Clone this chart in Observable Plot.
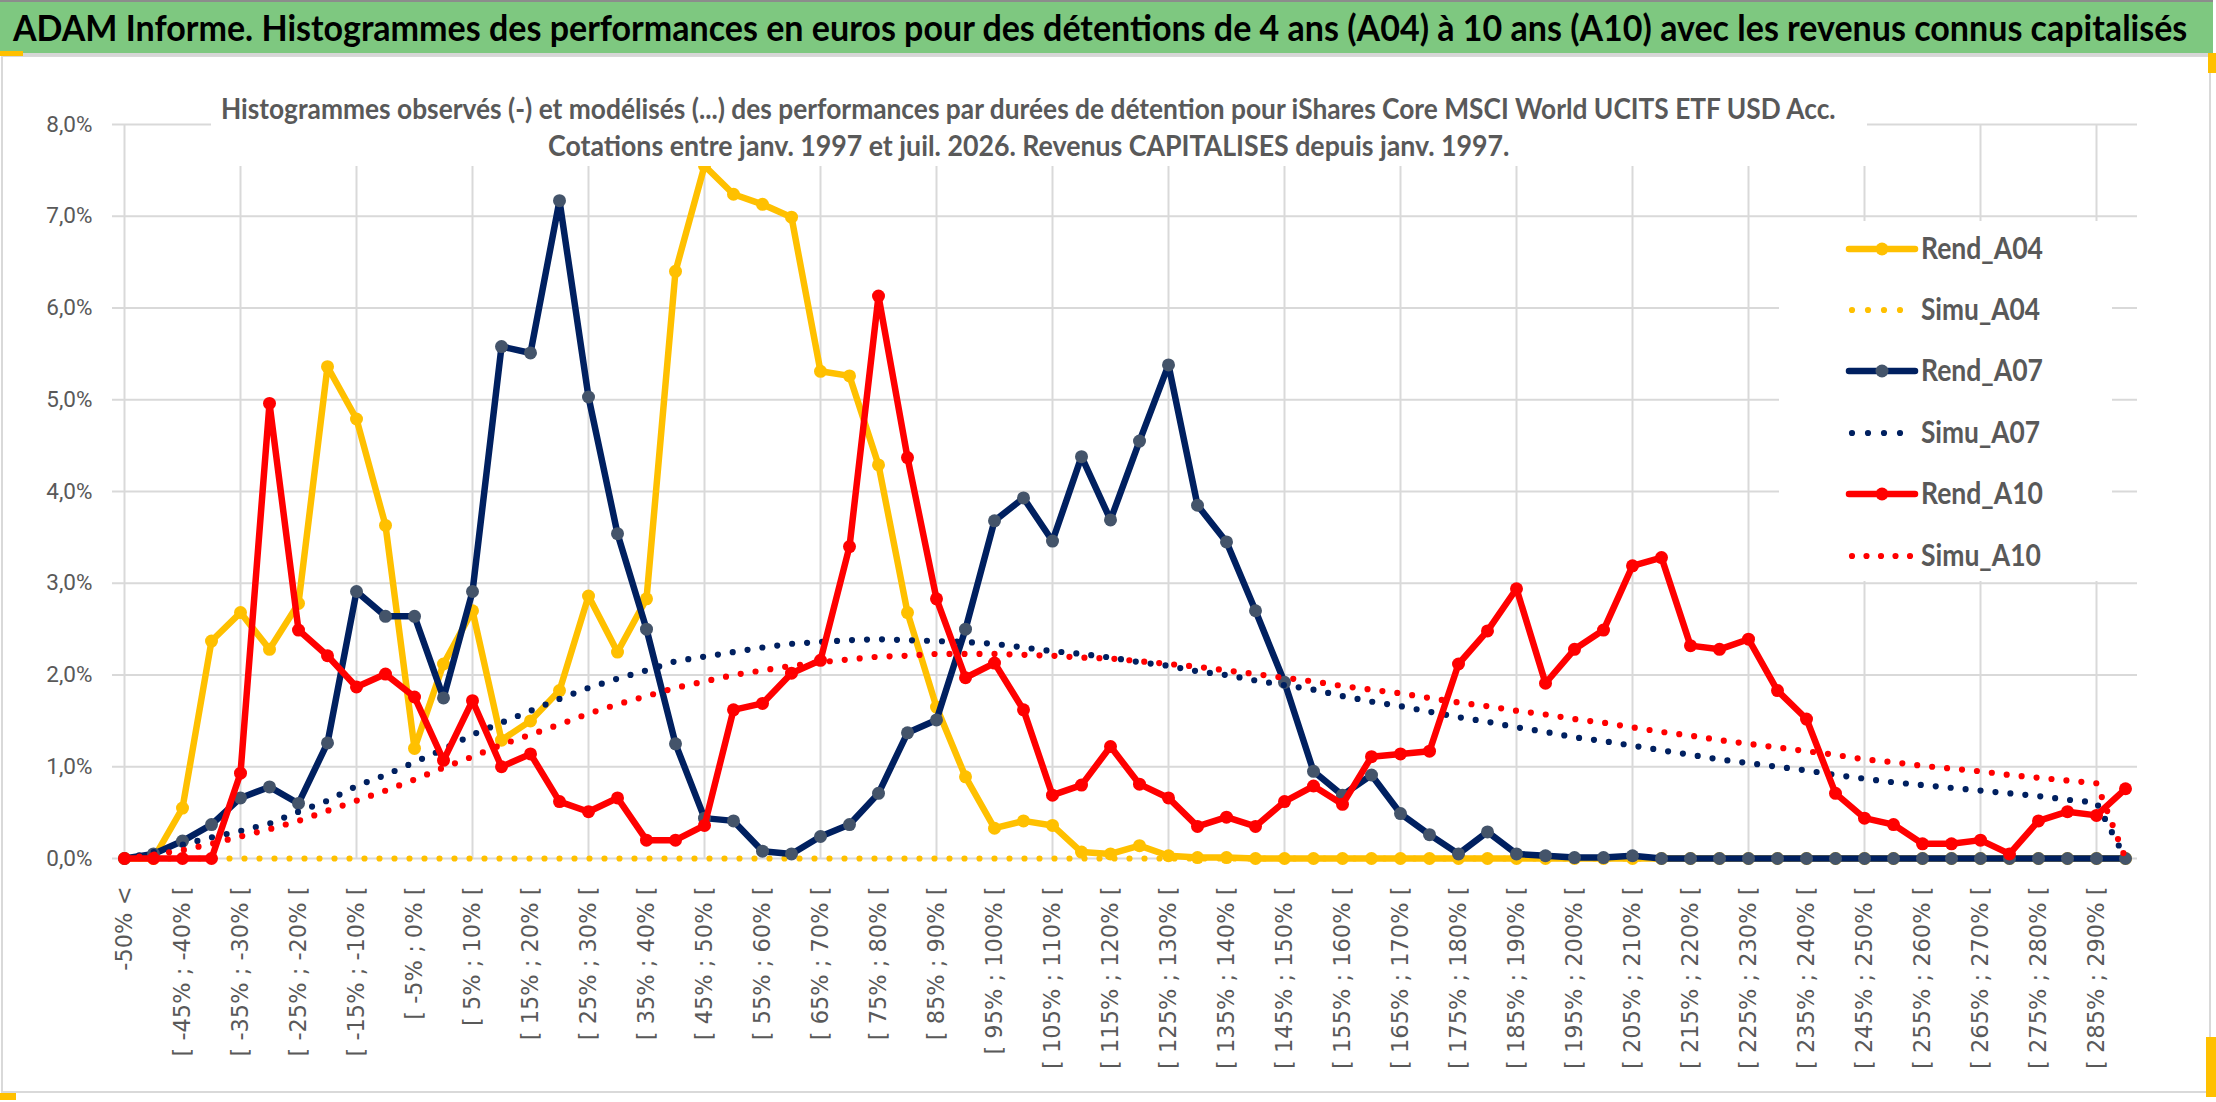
<!DOCTYPE html>
<html>
<head>
<meta charset="utf-8">
<script src="https://cdn.jsdelivr.net/npm/d3@7"></script>
<script src="https://cdn.jsdelivr.net/npm/@observablehq/plot@0.6"></script>
<style>
html, body { margin: 0; padding: 0; background: #fff; }
#page { position: relative; width: 2216px; height: 1102px; overflow: hidden; background: #fff; }
#frame { position: absolute; left: 1px; top: 55px; width: 2210px; height: 1038px; border: 2px solid #d9d9d9; box-sizing: border-box; }
#chart { position: absolute; left: 0; top: 0; }
#overlay { position: absolute; left: 0; top: 0; }
</style>
</head>
<body>
<div id="page">
  <div id="frame"></div>
  <div id="chart"></div>
  <svg id="overlay" width="2216" height="1102"></svg>
</div>
<script>
// ---------- Data ----------
const categories = [
  "-50% <", "[ -50% ; -45% [", "[ -45% ; -40% [", "[ -40% ; -35% [", "[ -35% ; -30% [",
  "[ -30% ; -25% [", "[ -25% ; -20% [", "[ -20% ; -15% [", "[ -15% ; -10% [", "[ -10% ; -5% [",
  "[ -5% ; 0% [", "[ 0% ; 5% [", "[ 5% ; 10% [", "[ 10% ; 15% [", "[ 15% ; 20% [",
  "[ 20% ; 25% [", "[ 25% ; 30% [", "[ 30% ; 35% [", "[ 35% ; 40% [", "[ 40% ; 45% [",
  "[ 45% ; 50% [", "[ 50% ; 55% [", "[ 55% ; 60% [", "[ 60% ; 65% [", "[ 65% ; 70% [",
  "[ 70% ; 75% [", "[ 75% ; 80% [", "[ 80% ; 85% [", "[ 85% ; 90% [", "[ 90% ; 95% [",
  "[ 95% ; 100% [", "[ 100% ; 105% [", "[ 105% ; 110% [", "[ 110% ; 115% [", "[ 115% ; 120% [",
  "[ 120% ; 125% [", "[ 125% ; 130% [", "[ 130% ; 135% [", "[ 135% ; 140% [", "[ 140% ; 145% [",
  "[ 145% ; 150% [", "[ 150% ; 155% [", "[ 155% ; 160% [", "[ 160% ; 165% [", "[ 165% ; 170% [",
  "[ 170% ; 175% [", "[ 175% ; 180% [", "[ 180% ; 185% [", "[ 185% ; 190% [", "[ 190% ; 195% [",
  "[ 195% ; 200% [", "[ 200% ; 205% [", "[ 205% ; 210% [", "[ 210% ; 215% [", "[ 215% ; 220% [",
  "[ 220% ; 225% [", "[ 225% ; 230% [", "[ 230% ; 235% [", "[ 235% ; 240% [", "[ 240% ; 245% [",
  "[ 245% ; 250% [", "[ 250% ; 255% [", "[ 255% ; 260% [", "[ 260% ; 265% [", "[ 265% ; 270% [",
  "[ 270% ; 275% [", "[ 275% ; 280% [", "[ 280% ; 285% [", "[ 285% ; 290% [", "[ 290% ; 295% ["
];

// values in %
const rendA04 = [
  0, 0, 0.55, 2.37, 2.68, 2.28, 2.78, 5.36, 4.79, 3.63,
  1.20, 2.12, 2.70, 1.29, 1.50, 1.83, 2.86, 2.25, 2.83, 6.40,
  7.55, 7.24, 7.13, 6.99, 5.31, 5.26, 4.29, 2.68, 1.65, 0.89,
  0.33, 0.41, 0.36, 0.07, 0.05, 0.14, 0.03, 0.01, 0.01, 0,
  0, 0, 0, 0, 0, 0, 0, 0, 0, 0,
  0, 0, 0, 0, 0, 0, 0, 0, 0, 0,
  0, 0, 0, 0, 0, 0, 0, 0, 0, 0
];
const simuA04 = [
  0, 0, 0, 0, 0, 0, 0, 0, 0, 0,
  0, 0, 0, 0, 0, 0, 0, 0, 0, 0,
  0, 0, 0, 0, 0, 0, 0, 0, 0, 0,
  0, 0, 0, 0, 0, 0, 0, 0, 0, 0,
  0, 0, 0, 0, 0, 0, 0, 0, 0, 0,
  0, 0, 0, 0, 0, 0, 0, 0, 0, 0,
  0, 0, 0, 0, 0, 0, 0, 0, 0, 0
];
const rendA07 = [
  0, 0.05, 0.19, 0.37, 0.66, 0.78, 0.60, 1.26, 2.91, 2.64,
  2.64, 1.75, 2.91, 5.58, 5.51, 7.17, 5.03, 3.54, 2.50, 1.25,
  0.44, 0.41, 0.08, 0.05, 0.24, 0.37, 0.71, 1.37, 1.51, 2.50,
  3.68, 3.93, 3.46, 4.38, 3.69, 4.55, 5.38, 3.85, 3.45, 2.70,
  1.92, 0.95, 0.69, 0.91, 0.49, 0.26, 0.05, 0.29, 0.05, 0.03,
  0.01, 0.01, 0.03, 0, 0, 0, 0, 0, 0, 0,
  0, 0, 0, 0, 0, 0, 0, 0, 0, 0
];
const simuA07 = [
  0, 0.07, 0.15, 0.23, 0.30, 0.38, 0.51, 0.63, 0.79, 0.91,
  1.05, 1.19, 1.35, 1.48, 1.61, 1.74, 1.86, 1.96, 2.05, 2.15,
  2.20, 2.25, 2.30, 2.34, 2.36, 2.38, 2.39, 2.38, 2.37, 2.36,
  2.34, 2.30, 2.26, 2.23, 2.19, 2.14, 2.10, 2.04, 2.00, 1.94,
  1.89, 1.84, 1.77, 1.71, 1.66, 1.60, 1.54, 1.49, 1.43, 1.38,
  1.32, 1.28, 1.23, 1.18, 1.13, 1.08, 1.04, 1.00, 0.96, 0.91,
  0.87, 0.83, 0.80, 0.77, 0.74, 0.71, 0.68, 0.64, 0.61, 0
];
const rendA10 = [
  0, 0, 0, 0, 0.93, 4.96, 2.49, 2.21, 1.87, 2.01,
  1.76, 1.07, 1.72, 1.00, 1.14, 0.62, 0.51, 0.66, 0.20, 0.20,
  0.36, 1.62, 1.69, 2.02, 2.16, 3.40, 6.13, 4.37, 2.83, 1.97,
  2.13, 1.62, 0.69, 0.80, 1.22, 0.81, 0.66, 0.35, 0.45, 0.35,
  0.62, 0.79, 0.59, 1.11, 1.14, 1.17, 2.12, 2.48, 2.94, 1.91,
  2.28, 2.49, 3.19, 3.28, 2.32, 2.28, 2.39, 1.83, 1.52, 0.71,
  0.44, 0.37, 0.16, 0.16, 0.20, 0.05, 0.41, 0.51, 0.47, 0.76
];
const simuA10 = [
  0, 0.04, 0.09, 0.16, 0.24, 0.32, 0.41, 0.52, 0.63, 0.74,
  0.86, 0.99, 1.11, 1.24, 1.35, 1.46, 1.58, 1.68, 1.77, 1.86,
  1.93, 2.00, 2.05, 2.10, 2.14, 2.17, 2.20, 2.21, 2.23, 2.23,
  2.23, 2.22, 2.21, 2.19, 2.18, 2.15, 2.12, 2.09, 2.05, 2.01,
  1.97, 1.93, 1.88, 1.84, 1.80, 1.75, 1.70, 1.66, 1.61, 1.57,
  1.52, 1.48, 1.43, 1.38, 1.34, 1.29, 1.25, 1.21, 1.17, 1.13,
  1.08, 1.05, 1.01, 0.98, 0.95, 0.91, 0.88, 0.85, 0.82, 0
];

const yTicks = [0, 1, 2, 3, 4, 5, 6, 7, 8];
const seriesNames = ["Rend_A04", "Simu_A04", "Rend_A07", "Simu_A07", "Rend_A10", "Simu_A10"];
const seriesColors = ["#FFC000", "#FFC000", "#002060", "#002060", "#FF0000", "#FF0000"];
const markerColors = ["#FFC000", null, "#44546A", null, "#FF0000", null];
const titleText = "ADAM Informe. Histogrammes des performances en euros pour des détentions de 4 ans (A04) à 10 ans (A10) avec les revenus connus capitalisés";
const subtitle1 = "Histogrammes observés (-) et modélisés (...) des performances par durées de détention pour iShares Core MSCI World UCITS ETF USD Acc.";
const subtitle2 = "Cotations entre janv. 1997 et juil. 2026. Revenus CAPITALISES depuis janv. 1997.";

// ---------- Build ----------
const seriesValues = [rendA04, simuA04, rendA07, simuA07, rendA10, simuA10];
const rowsOf = (vals) => vals.map((v, i) => ({cat: categories[i], v}));
const tickLabels = categories.filter((d, i) => i % 2 === 0);
const gridCats = categories.filter((d, i) => i % 4 === 0);
const fmt = d => d.toFixed(1).replace(".", ",") + "%";

const LW = 6.5, MR = 6.5;

const marks = [
  Plot.ruleY(yTicks, {y: d => d, stroke: "#d9d9d9", strokeWidth: 2}),
  Plot.ruleX(gridCats, {x: d => d, stroke: "#d9d9d9", strokeWidth: 2}),
  Plot.text(yTicks, {y: d => d, text: fmt, frameAnchor: "left", dx: -20, textAnchor: "end",
    fontSize: 22.5, fontFamily: "Roboto", fill: "#595959"}),
  Plot.text(tickLabels, {x: d => d, text: d => d, frameAnchor: "bottom", dy: 28, rotate: -90,
    textAnchor: "end", lineAnchor: "middle", fontSize: 22.5, fontFamily: "DejaVu Sans", fill: "#595959"})
];

seriesValues.forEach((vals, k) => {
  const rows = rowsOf(vals);
  if (markerColors[k]) {
    marks.push(Plot.line(rows, {x: "cat", y: "v", stroke: seriesColors[k], strokeWidth: LW,
      strokeLinejoin: "round", strokeLinecap: "round"}));
    marks.push(Plot.dot(rows, {x: "cat", y: "v", r: MR, fill: markerColors[k], stroke: "none"}));
  } else {
    marks.push(Plot.line(rows, {x: "cat", y: "v", stroke: seriesColors[k], strokeWidth: 6.2,
      strokeDasharray: "0 15", strokeLinecap: "round"}));
  }
});

const chart = Plot.plot({
  width: 2216,
  height: 1102,
  marginLeft: 112,
  marginRight: 79,
  marginTop: 124,
  marginBottom: 244,
  style: {background: "transparent", overflow: "visible"},
  x: {type: "point", domain: categories, padding: 0, axis: null},
  y: {domain: [0, 8], axis: null},
  marks
});
document.getElementById("chart").appendChild(chart);

// ---------- Overlay: banner, chart title, legend ----------
const svg = d3.select("#overlay");
const tFont = "Lato, 'Open Sans', sans-serif";

// text fitted horizontally to a target width (scaled glyphs, like a condensed face)
function fitText(parent, str, x, y, target, size, fill) {
  const t = parent.append("text").attr("x", 0).attr("y", 0)
    .attr("font-family", tFont).attr("font-weight", 700).attr("font-size", size)
    .attr("fill", fill).text(str);
  const w = t.node().getComputedTextLength();
  t.attr("transform", `translate(${x},${y}) scale(${target / w},1)`);
  return t;
}

// Banner
svg.append("rect").attr("x", 0).attr("y", 0).attr("width", 2213).attr("height", 2).attr("fill", "#8c8c8c");
svg.append("rect").attr("x", 0).attr("y", 2).attr("width", 2213).attr("height", 51).attr("fill", "#7EC880");
svg.append("rect").attr("x", 0).attr("y", 53).attr("width", 2216).attr("height", 3).attr("fill", "#d6d6d6");
fitText(svg, titleText, 13, 41, 2175, 36, "#000");
// selection handles (yellow)
svg.append("rect").attr("x", 0).attr("y", 51).attr("width", 23).attr("height", 5).attr("fill", "#FFC000");
svg.append("rect").attr("x", 2208).attr("y", 53).attr("width", 8).attr("height", 20).attr("fill", "#FFC000");
svg.append("rect").attr("x", 2206).attr("y", 1037).attr("width", 10).attr("height", 60).attr("fill", "#FFC000");
svg.append("rect").attr("x", 0).attr("y", 1093).attr("width", 16).attr("height", 7).attr("fill", "#FFC000");

// Chart title box
svg.append("rect").attr("x", 211).attr("y", 60).attr("width", 1656).attr("height", 106).attr("fill", "#fff");
fitText(svg, subtitle1, 221, 119, 1615, 29, "#595959");
fitText(svg, subtitle2, 548, 156, 962, 29, "#595959");

// Legend
const lg = svg.append("g").attr("transform", "translate(1779,221)");
lg.append("rect").attr("width", 333).attr("height", 360).attr("fill", "#fff");
const legendY = [28, 89, 150, 212, 273, 335];
const legendW = [122, 119, 122, 119, 122, 120];
seriesNames.forEach((name, k) => {
  const y = legendY[k];
  if (markerColors[k]) {
    lg.append("line").attr("x1", 70).attr("x2", 136).attr("y1", y).attr("y2", y)
      .attr("stroke", seriesColors[k]).attr("stroke-width", LW).attr("stroke-linecap", "round");
    lg.append("circle").attr("cx", 103).attr("cy", y).attr("r", MR).attr("fill", markerColors[k]);
  } else {
    lg.append("line").attr("x1", 73).attr("x2", k === 5 ? 132 : 122).attr("y1", y).attr("y2", y)
      .attr("stroke", seriesColors[k]).attr("stroke-width", 6.2).attr("stroke-linecap", "round")
      .attr("stroke-dasharray", k === 5 ? "0 14.5" : "0 16");
  }
  fitText(lg, name, 142, y + 10, legendW[k], 30, "#595959");
});
</script>
</body>
</html>
